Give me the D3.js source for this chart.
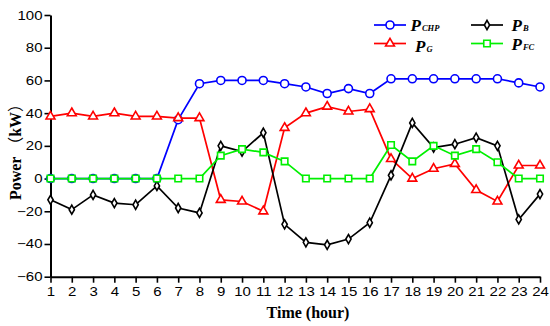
<!DOCTYPE html>
<html>
<head>
<meta charset="utf-8">
<script src="https://cdn.jsdelivr.net/npm/d3@7"></script>
<style>
  html, body { margin: 0; padding: 0; background: #fff; }
  svg { display: block; }
</style>
</head>
<body>
<svg id="chart" width="550" height="326"></svg>
<script>
const hours = [1,2,3,4,5,6,7,8,9,10,11,12,13,14,15,16,17,18,19,20,21,22,23,24];
const pCHP = [0,0,0,0,0,0,36,58,60,60,60,58,56,52,55,52,61,61,61,61,61,61,58.5,56];
const pG   = [38,40,38,40,38,38,37,37,-13,-14,-20,31,40,44,41,42.5,12,0,6,9,-7,-14,8,8];
const pB   = [-13,-19,-10,-15,-16,-4.5,-18,-21,20,16.5,28,-28,-39,-40.5,-37,-27,2,34,19,21,25,20,-25,-9.5];
const pFC  = [0,0,0,0,0,0,0,0,14,18,16,10.5,0,0,0,0,20.5,10.5,20,14,18,10,0,0];
const yTicks = [-60,-40,-20,0,20,40,60,80,100];
const seriesNames = ["CHP","G","B","FC"];
const seriesColors = ["#0000ff","#ff0000","#000000","#00f000"];

const svg = d3.select("#chart");
const x = d3.scaleLinear().domain([1,24]).range([50.5,540]);
const y = d3.scaleLinear().domain([-60,100]).range([276.7,15]);

// axes
const gx = svg.append("g").attr("transform", `translate(0,${y(-60)})`)
  .call(d3.axisBottom(x).tickValues(hours).tickFormat(d3.format("d")).tickSize(6).tickSizeOuter(0).tickPadding(3));
const gy = svg.append("g").attr("transform", `translate(${x(1)},0)`)
  .call(d3.axisLeft(y).tickValues(yTicks).tickFormat(d => d < 0 ? "\u2212" + Math.abs(d) : d).tickSize(6).tickSizeOuter(0).tickPadding(2));

[gx, gy].forEach(g => {
  g.select(".domain").attr("stroke", "#000").attr("stroke-width", 2);
  g.selectAll(".tick line").attr("stroke", "#000").attr("stroke-width", 1.6);
  g.selectAll(".tick text").attr("fill", "#000")
    .style("font-family", "'Liberation Sans', Arial, sans-serif").style("font-size", "12.5px");
});
gy.selectAll(".tick text").attr("x", 0).attr("transform", "translate(-8,0) scale(1.2,1)");
gx.selectAll(".tick text").attr("y", 0).attr("transform", "translate(0,10) scale(1.2,1)");

// series
const data = [pCHP, pG, pB, pFC];
const line = d3.line().x((d,i) => x(hours[i])).y(d => y(d));

function marker(g, type, color) {
  if (type === 0) {
    g.append("circle").attr("r", 4).attr("fill", "#fff").attr("stroke", color).attr("stroke-width", 1.6);
  } else {
    const sym = [null, d3.symbolTriangle, d3.symbolDiamond, d3.symbolSquare][type];
    const size = [0, 34, 24, 42][type];
    g.append("path").attr("d", d3.symbol().type(sym).size(size)())
      .attr("fill", "#fff").attr("stroke", color).attr("stroke-width", 1.6);
  }
}

data.forEach((vals, si) => {
  const col = seriesColors[si];
  const g = svg.append("g");
  g.append("path").datum(vals).attr("d", line).attr("fill", "none")
    .attr("stroke", col).attr("stroke-width", 1.7);
  vals.forEach((v, i) => {
    const m = g.append("g").attr("transform", `translate(${x(hours[i])},${y(v)})`);
    marker(m, si, col);
  });
});

// legend
const legendPos = [
  {lx: 374, ly: 25, tx: 410.5, ty: 31},
  {lx: 374, ly: 43.5, tx: 415, ty: 52},
  {lx: 471, ly: 25, tx: 511.5, ty: 31},
  {lx: 471, ly: 43.5, tx: 511.5, ty: 50}
];
seriesNames.forEach((name, si) => {
  const p = legendPos[si];
  const col = seriesColors[si];
  const g = svg.append("g");
  g.append("line").attr("x1", p.lx).attr("x2", p.lx + 32).attr("y1", p.ly).attr("y2", p.ly)
    .attr("stroke", col).attr("stroke-width", 1.7);
  const m = g.append("g").attr("transform", `translate(${p.lx + 16},${p.ly})`);
  marker(m, si, col);
  const t = g.append("text").attr("x", p.tx).attr("y", p.ty)
    .style("font-family", "'Liberation Serif', 'Times New Roman', serif")
    .style("font-weight", "bold").style("font-style", "italic").attr("fill", "#000");
  t.append("tspan").style("font-size", "17px").text("P");
  t.append("tspan").style("font-size", "8.5px").attr("dx", 1).attr("dy", -0.5).text(name);
});

// axis titles
svg.append("text").attr("x", 308).attr("y", 318).attr("text-anchor", "middle")
  .style("font-family", "'Liberation Serif', 'Times New Roman', serif")
  .style("font-weight", "bold").style("font-size", "16px").text("Time (hour)");
const yl = svg.append("text").attr("transform", "translate(21,148) rotate(-90)").attr("text-anchor", "middle")
  .style("font-family", "'Liberation Serif', 'Times New Roman', serif")
  .style("font-weight", "bold").style("font-size", "16px");
yl.append("tspan").text("Power ");
yl.append("tspan").style("font-family", "'Noto Sans CJK SC', sans-serif").style("font-weight", "normal").text("（");
yl.append("tspan").text("kW");
yl.append("tspan").style("font-family", "'Noto Sans CJK SC', sans-serif").style("font-weight", "normal").text("）");
</script>
</body>
</html>
